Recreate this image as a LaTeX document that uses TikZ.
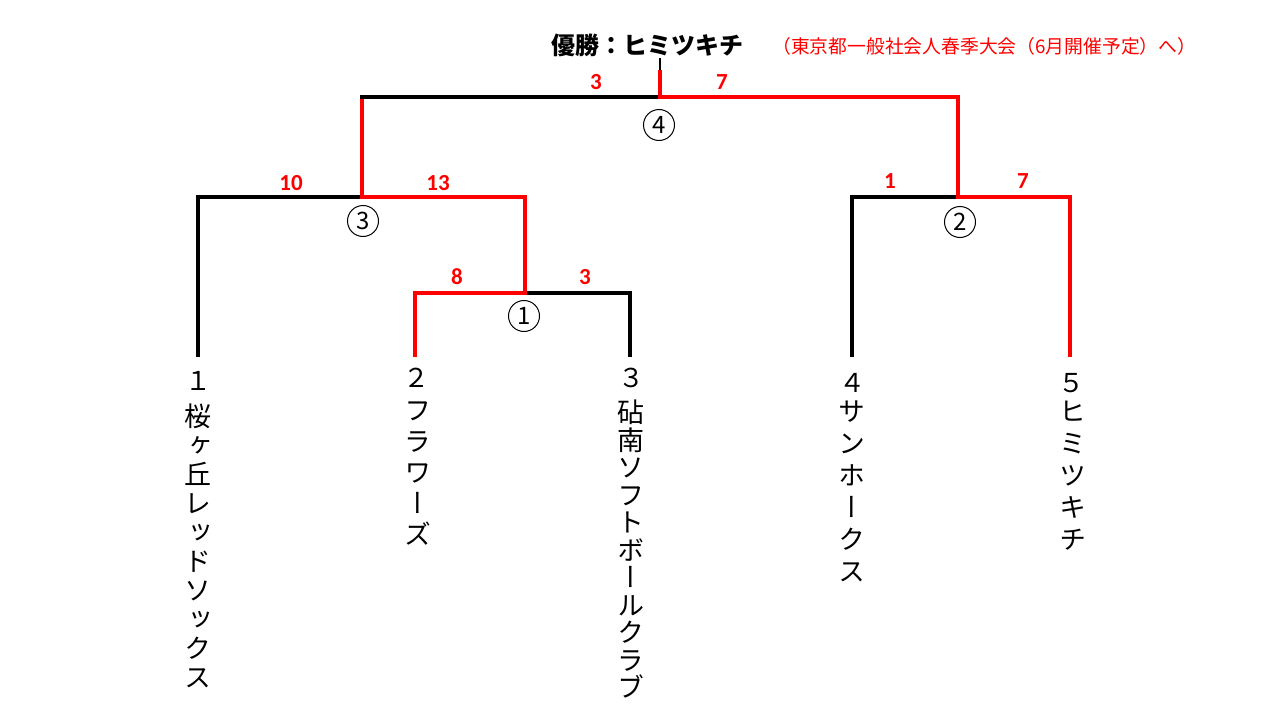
\documentclass[tikz,border=0pt]{standalone}
\usepackage{fontspec}
\setmainfont{Carlito}
\newfontfamily\jp{Noto Sans CJK JP}
\newfontfamily\vjp[RawFeature=+vert]{Noto Sans CJK JP}
\begin{document}
\begin{tikzpicture}[x=1pt,y=-1pt,
  bk/.style={line width=3.3pt, black, line cap=rect},
  rd/.style={line width=3.3pt, red, line cap=rect},
  score/.style={text=red, inner sep=0pt, font=\bfseries\fontsize{23}{24}\selectfont},
  rnd/.style={circle, draw, line width=1pt, minimum size=31pt, inner sep=0pt, font=\jp\fontsize{24}{24}\selectfont},
  team/.style={anchor=north, align=center, inner sep=0pt, font=\vjp\fontsize{27}{#1}\selectfont},
  seed/.style={inner sep=0pt, font=\jp\fontsize{26}{26}\selectfont}
]
\fill[white] (0,0) rectangle (1280,720);
\useasboundingbox (0,0) rectangle (1280,720);

% bracket points
\coordinate (t1) at (198,355);
\coordinate (t2) at (415,355);
\coordinate (t3) at (630,355);
\coordinate (t4) at (852,355);
\coordinate (t5) at (1070,355);
\coordinate (m1) at (525,293);
\coordinate (m3) at (362,197);
\coordinate (m2) at (958,197);
\coordinate (m4) at (660,97);
\coordinate (f3) at (362,97);
\coordinate (cm) at (660,70);
\coordinate (champ) at (660,58);

% lines
\draw[bk] (t1) |- (m3);
\draw[rd] (t2) |- (m1);
\draw[bk] (t3) |- (m1);
\draw[rd] (m1) |- (m3);
\draw[rd] (m3) -- (f3);
\draw[bk] (f3) -- (m4);
\draw[bk] (t4) |- (m2);
\draw[rd] (t5) |- (m2);
\draw[rd] (m2) |- (m4);
\draw[bk, line width=2.6pt, line cap=butt] (champ) -- (cm);
\draw[rd, line cap=butt] (cm) -- (m4);

% scores
\node[score] (s4a) at (596,82) {3};
\node[score] (s4b) at (722,82) {7};
\node[score] (s3a) at (291,183) {10};
\node[score] (s3b) at (438,183) {13};
\node[score] (s1a) at (457,277) {8};
\node[score] (s1b) at (585,277) {3};
\node[score] (s2a) at (890,181) {1};
\node[score] (s2b) at (1023,181) {7};

% round numbers
\node[rnd] (r4) at (659,125) {4};
\node[rnd] (r3) at (363,221) {3};
\node[rnd] (r1) at (524,316) {1};
\node[rnd] (r2) at (960,222) {2};

% title
\node[anchor=west, inner sep=0pt, font=\jp\bfseries\fontsize{24}{24}\selectfont] (title) at (551,45) {優勝：ヒミツキチ};
\node[anchor=west, inner sep=0pt, text=red, font=\jp\fontsize{18.8}{19}\selectfont] (note) at (772,46) {（東京都一般社会人春季大会（6月開催予定）へ）};

% seeds
\node[seed] (n1) at (198,381) {１};
\node[seed] (n2) at (416,378) {２};
\node[seed] (n3) at (631,378) {３};
\node[seed] (n4) at (852,383) {４};
\node[seed] (n5) at (1071,383) {５};

% teams
\node[team=29pt] (team1) at (198,404) {桜\\ヶ\\丘\\レ\\ッ\\ド\\ソ\\ッ\\ク\\ス};
\node[team=31pt] (team2) at (418,402) {フ\\ラ\\ワ\\ー\\ズ};
\node[team=27.5pt] (team3) at (631,400) {砧\\南\\ソ\\フ\\ト\\ボ\\ー\\ル\\ク\\ラ\\ブ};
\node[team=32pt] (team4) at (852,401) {サ\\ン\\ホ\\ー\\ク\\ス};
\node[team=32pt] (team5) at (1073,401) {ヒ\\ミ\\ツ\\キ\\チ};
\end{tikzpicture}
\end{document}
